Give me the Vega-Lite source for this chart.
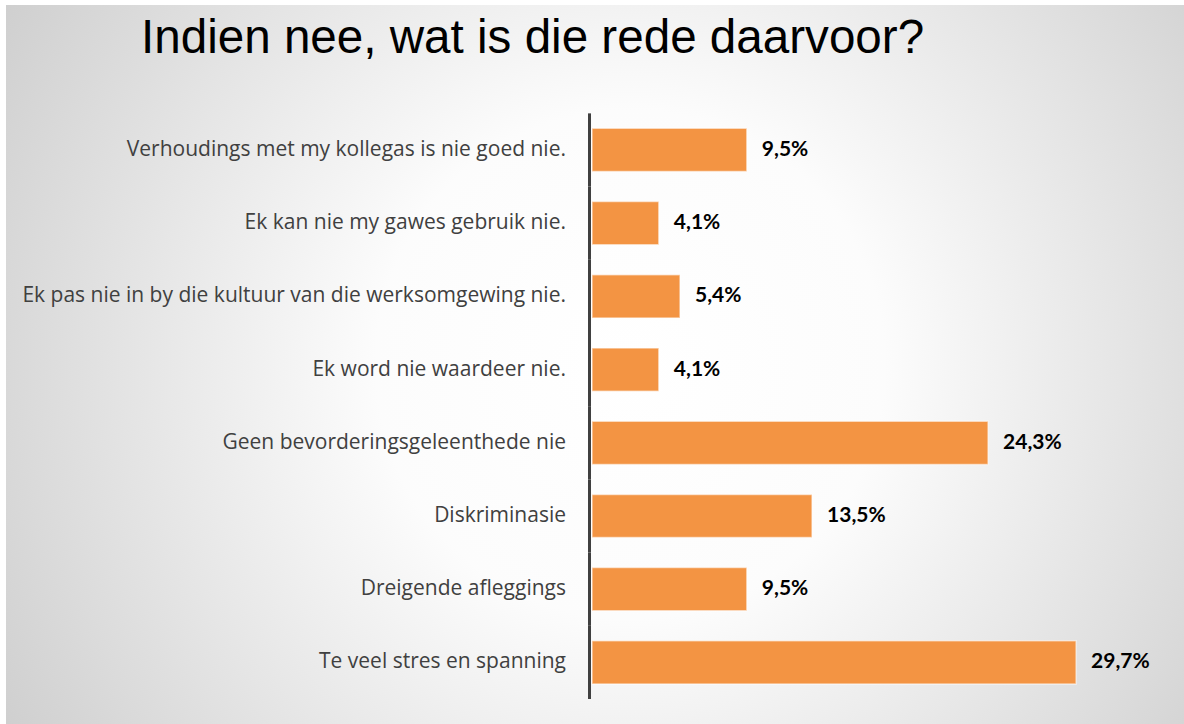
{
  "$schema": "https://vega.github.io/schema/vega-lite/v6.json",
  "width": 1178,
  "height": 719,
  "autosize": {"type": "none"},
  "padding": {"left": 6, "top": 5, "right": 0, "bottom": 0},
  "background": "#ffffff",
  "title": {
    "text": "Indien nee, wat is die rede daarvoor?",
    "anchor": "start",
    "frame": "group",
    "offset": 0,
    "dx": 135,
    "dy": 96,
    "baseline": "alphabetic",
    "font": "Liberation Sans",
    "fontSize": 47.6,
    "fontWeight": "normal",
    "color": "#000000"
  },
  "data": {
    "values": [
      {"reason": "Verhoudings met my kollegas is nie goed nie.", "share": 0.095},
      {"reason": "Ek kan nie my gawes gebruik nie. ", "share": 0.041},
      {"reason": "Ek pas nie in by die kultuur van die werksomgewing nie.", "share": 0.054},
      {"reason": "Ek word nie waardeer nie. ", "share": 0.041},
      {"reason": "Geen bevorderingsgeleenthede nie ", "share": 0.243},
      {"reason": "Diskriminasie", "share": 0.135},
      {"reason": "Dreigende afleggings ", "share": 0.095},
      {"reason": "Te veel stres en spanning", "share": 0.297}
    ]
  },
  "encoding": {
    "x": {
      "type": "quantitative",
      "scale": {"domain": [-0.3595, 0.3632], "nice": false, "zero": false},
      "axis": null
    },
    "y": {
      "field": "reason", "type": "nominal", "sort": null, "axis": null,
      "scale": {"type": "band", "paddingInner": 0, "paddingOuter": 0.911, "align": 0.8125}
    }
  },
  "layer": [
    {
      "mark": {"type": "bar", "color": "#404040"},
      "encoding": {
        "x": {"datum": -0.00245, "type": "quantitative"},
        "x2": {"datum": -0.0006}
      }
    },
    {
      "mark": {"type": "bar", "color": "#F39443", "stroke": "#ffffff", "strokeOpacity": 0.55, "strokeWidth": 1.5, "height": {"band": 0.59}},
      "encoding": {
        "x": {"field": "share", "type": "quantitative"}
      }
    },
    {
      "mark": {"type": "text", "align": "left", "baseline": "middle", "dx": 15, "font": "Lato", "fontWeight": "bold", "fontSize": 21, "color": "#000000"},
      "encoding": {
        "x": {"field": "share", "type": "quantitative"},
        "text": {"field": "share", "type": "quantitative", "format": ".1%"}
      }
    },
    {
      "mark": {"type": "text", "align": "right", "baseline": "middle", "dx": -26, "font": "Open Sans", "fontSize": 21, "color": "#404040"},
      "encoding": {
        "x": {"datum": 0, "type": "quantitative"},
        "text": {"field": "reason", "type": "nominal"}
      }
    }
  ],
  "config": {
    "locale": {"number": {"decimal": ",", "thousands": ".", "grouping": [3], "currency": ["", " €"]}},
    "view": {
      "stroke": null,
      "fill": {
        "gradient": "radial",
        "x1": 0.53, "y1": 0.5, "r1": 0,
        "x2": 0.53, "y2": 0.5, "r2": 0.72,
        "stops": [
          {"offset": 0, "color": "#ffffff"},
          {"offset": 0.3, "color": "#fcfcfc"},
          {"offset": 1, "color": "#c3c3c3"}
        ]
      }
    }
  }
}
